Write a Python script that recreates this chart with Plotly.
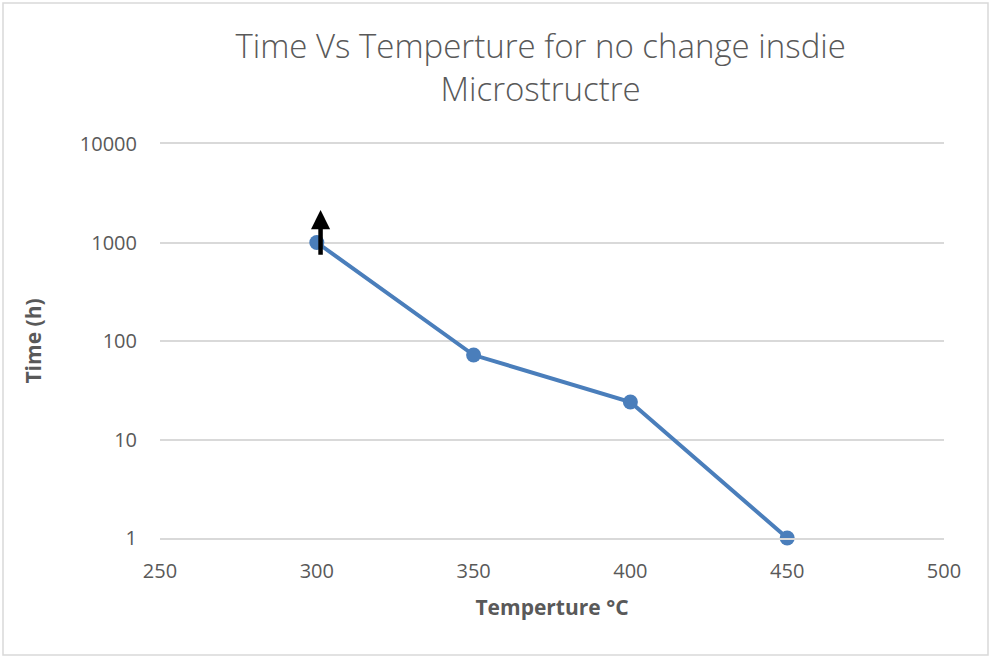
import plotly.graph_objects as go

# Temperature (°C) and time (h) for no change inside the microstructure
temperature = [300, 350, 400, 450]
time_h = [1000, 72, 24, 1]

y_tickvals = [1, 10, 100, 1000, 10000]
y_ticktext = ["1", "10", "100", "1000", "10000"]
x_tickvals = [250, 300, 350, 400, 450, 500]

W, H = 992, 659
L, R, T, B = 160, 48, 144, 121
pw, ph = W - L - R, H - T - B

fig = go.Figure()
fig.add_trace(go.Scatter(
    x=temperature, y=time_h, mode="lines+markers",
    line=dict(color="#4a7ebb", width=4),
    marker=dict(color="#4a7ebb", size=15),
    cliponaxis=False,
    showlegend=False,
))

gray = "#595959"
fig.update_layout(
    width=W, height=H,
    margin=dict(l=L, r=R, t=T, b=B),
    paper_bgcolor="white", plot_bgcolor="white",
    font=dict(family="Open Sans", color=gray),
    title=dict(
        text="Time Vs Temperture for no change insdie<br>Microstructre",
        x=0.545, xanchor="center", yref="container",
        y=1 - 58 / H, yanchor="middle",
        font=dict(size=33, color=gray, family="Open Sans", weight=300),
    ),
    xaxis=dict(
        range=[250, 500], tickvals=x_tickvals, showgrid=False,
        showline=True, mirror=True, linecolor="#d9d9d9", linewidth=1.5,
        zeroline=False, ticks="", ticklabelstandoff=14,
        tickfont=dict(size=20, color=gray),
        title=dict(text="<b>Temperture °C</b>", font=dict(size=21, color=gray), standoff=18),
    ),
    yaxis=dict(
        type="log", range=[0, 4], tickvals=y_tickvals, ticktext=y_ticktext,
        showgrid=True, gridcolor="#d9d9d9", gridwidth=1.5,
        zeroline=False, showline=False, ticks="", ticklabelstandoff=22,
        tickfont=dict(size=20, color=gray),
        title=dict(text="<b>Time (h)</b>", font=dict(size=21, color=gray), standoff=32),
    ),
)

# Upward arrow at the 300 °C point: the time there is a lower bound
fig.add_annotation(
    x=301.2, y=3.33, ax=301.2, ay=2.86,
    xref="x", yref="y", axref="x", ayref="y",
    text="", showarrow=True, arrowhead=2, arrowsize=0.85,
    arrowwidth=4.5, arrowcolor="black",
)

# Light outer frame around the chart
fig.add_shape(
    type="rect", xref="paper", yref="paper",
    x0=(3 - L) / pw, x1=(988 - L) / pw,
    y0=-(655 - (H - B)) / ph, y1=((H - B) - 3) / ph,
    line=dict(color="#d9d9d9", width=1.5), fillcolor="rgba(0,0,0,0)",
    layer="below",
)

fig.write_html("out.html")
